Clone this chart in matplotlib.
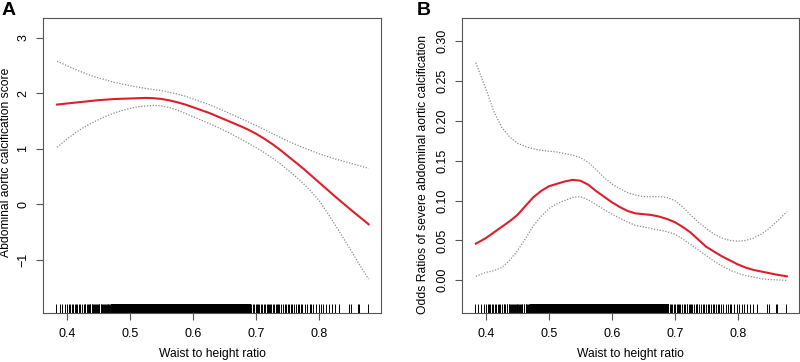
import numpy as np
import matplotlib
matplotlib.use("Agg")
import matplotlib.pyplot as plt

plt.rcParams['font.family'] = ['Liberation Sans', 'DejaVu Sans']

whtr = [0.384, 0.40, 0.4125, 0.425, 0.4375, 0.45, 0.4625, 0.475, 0.4875, 0.50,
        0.5125, 0.525, 0.5375, 0.55, 0.5625, 0.575, 0.5875, 0.60, 0.6125, 0.625,
        0.6375, 0.65, 0.6625, 0.675, 0.6875, 0.70, 0.7125, 0.725, 0.7375, 0.75,
        0.7625, 0.775, 0.7875, 0.80, 0.8125, 0.825, 0.8375, 0.85, 0.8625, 0.878]

# Panel A: abdominal aortic calcification score
aac_fit = [1.80, 1.82, 1.835, 1.85, 1.865, 1.88, 1.89, 1.90, 1.905, 1.91,
           1.915, 1.92, 1.915, 1.90, 1.875, 1.84, 1.80, 1.75, 1.70, 1.65,
           1.59, 1.53, 1.47, 1.41, 1.345, 1.27, 1.185, 1.09, 0.985, 0.87,
           0.755, 0.64, 0.515, 0.39, 0.265, 0.14, 0.02, -0.10, -0.215, -0.36]
aac_upper = [2.58, 2.50, 2.435, 2.38, 2.325, 2.28, 2.24, 2.20, 2.17, 2.14,
             2.115, 2.09, 2.07, 2.05, 2.02, 1.99, 1.95, 1.90, 1.85, 1.80,
             1.74, 1.68, 1.615, 1.55, 1.485, 1.42, 1.35, 1.28, 1.21, 1.14,
             1.08, 1.02, 0.965, 0.91, 0.865, 0.82, 0.78, 0.74, 0.70, 0.65]
aac_lower = [1.03, 1.18, 1.285, 1.38, 1.46, 1.53, 1.595, 1.65, 1.695, 1.73,
             1.76, 1.775, 1.785, 1.775, 1.745, 1.70, 1.64, 1.58, 1.52, 1.46,
             1.395, 1.33, 1.255, 1.18, 1.10, 1.02, 0.935, 0.84, 0.735, 0.62,
             0.50, 0.37, 0.225, 0.06, -0.15, -0.37, -0.60, -0.83, -1.07, -1.35]

# Panel B: odds ratios of severe AAC
or_fit = [0.046, 0.053, 0.060, 0.067, 0.074, 0.082, 0.093, 0.104, 0.112, 0.118,
          0.121, 0.124, 0.126, 0.125, 0.120, 0.112, 0.105, 0.098, 0.092, 0.087,
          0.084, 0.083, 0.082, 0.080, 0.077, 0.073, 0.067, 0.060, 0.051, 0.042,
          0.036, 0.030, 0.025, 0.020, 0.016, 0.013, 0.011, 0.009, 0.007, 0.005]
or_upper = [0.273, 0.240, 0.212, 0.192, 0.180, 0.172, 0.168, 0.165, 0.163, 0.162,
            0.161, 0.159, 0.157, 0.154, 0.148, 0.139, 0.129, 0.121, 0.115, 0.110,
            0.107, 0.105, 0.105, 0.105, 0.104, 0.100, 0.092, 0.082, 0.073, 0.065,
            0.058, 0.053, 0.050, 0.049, 0.050, 0.053, 0.058, 0.065, 0.074, 0.086]
or_lower = [0.005, 0.010, 0.012, 0.016, 0.025, 0.037, 0.052, 0.068, 0.080, 0.090,
            0.096, 0.100, 0.104, 0.105, 0.101, 0.095, 0.089, 0.083, 0.078, 0.073,
            0.069, 0.067, 0.065, 0.063, 0.061, 0.058, 0.052, 0.045, 0.038, 0.031,
            0.024, 0.018, 0.013, 0.009, 0.006, 0.004, 0.002, 0.001, 0.0005, 0.000]

# rug of observed ratios: single ticks plus the solid block in the middle
rug_ticks = [0.383, 0.388, 0.392, 0.397, 0.400, 0.403, 0.405, 0.407, 0.409, 0.412,
             0.414, 0.416, 0.419, 0.421, 0.423, 0.426, 0.428, 0.429, 0.431, 0.433,
             0.434, 0.436, 0.437, 0.439, 0.440, 0.441, 0.443, 0.444, 0.446, 0.447,
             0.449, 0.450, 0.451, 0.453, 0.454, 0.456, 0.457, 0.458, 0.460, 0.461,
             0.463, 0.464, 0.465, 0.467, 0.468, 0.469,
             0.692, 0.694, 0.696, 0.699, 0.701, 0.703, 0.705, 0.707, 0.709, 0.712,
             0.714, 0.717, 0.719, 0.720, 0.722, 0.724, 0.726, 0.728, 0.731, 0.733,
             0.735, 0.736, 0.739, 0.742, 0.745, 0.747, 0.750, 0.752, 0.755, 0.757,
             0.760, 0.763, 0.766, 0.768, 0.771, 0.773, 0.777, 0.781, 0.785, 0.787,
             0.790, 0.794, 0.799, 0.802, 0.806, 0.810, 0.815, 0.820, 0.825, 0.831,
             0.847, 0.850, 0.861, 0.863, 0.877]
rug_block = (0.470, 0.691)

x_ticks = [0.4, 0.5, 0.6, 0.7, 0.8]
x_ticklabels = ['0.4', '0.5', '0.6', '0.7', '0.8']
a_yticks = [-1, 0, 1, 2, 3]
a_yticklabels = ['\u22121', '0', '1', '2', '3']
b_yticks = [0.00, 0.05, 0.10, 0.15, 0.20, 0.25, 0.30]
b_yticklabels = ['0.00', '0.05', '0.10', '0.15', '0.20', '0.25', '0.30']

RED = '#dd1f2c'
GREY = '#8c8c8c'
BOX = '#555555'

fig = plt.figure(figsize=(8, 3.62), dpi=100)
axA = fig.add_axes([0.054, 0.1354, 0.4225, 0.8146])
axB = fig.add_axes([0.5775, 0.1354, 0.421, 0.8146])


def draw_panel(ax, fit, upper, lower, xlim, ylim, yticks, yticklabels, ylabel, ylab_x, ylab_y, letter, letter_x):
    ax.plot(whtr, upper, color=GREY, lw=0.9, linestyle=(0, (1, 1.3)))
    ax.plot(whtr, lower, color=GREY, lw=0.9, linestyle=(0, (1, 1.3)))
    ax.plot(whtr, fit, color=RED, lw=1.5)

    trans = ax.get_xaxis_transform()
    ax.vlines(rug_ticks, 0, 0.031, transform=trans, color='black', lw=0.7)
    ax.axvspan(rug_block[0], rug_block[1], ymin=0, ymax=0.031, color='black', lw=0)

    ax.set_xlim(*xlim)
    ax.set_ylim(*ylim)
    ax.set_xticks(x_ticks)
    ax.set_xticklabels(x_ticklabels)
    ax.set_yticks(yticks)
    ax.set_yticklabels(yticklabels, rotation=90, va='center')
    ax.tick_params(direction='out', length=5, width=0.8, color=BOX, labelsize=9)
    ax.tick_params(axis='x', pad=6)
    ax.tick_params(axis='y', pad=5)
    for s in ax.spines.values():
        s.set_color(BOX)
        s.set_linewidth(0.8)

    ax.text(0.5, -0.138, 'Waist to height ratio', transform=ax.transAxes,
            ha='center', va='center', fontsize=8.7)
    ax.text(ylab_x, ylab_y, ylabel, transform=ax.transAxes, rotation=90,
            ha='center', va='center', fontsize=8.7)
    fig.text(letter_x, 0.972, letter, fontsize=14, fontweight='bold',
             ha='center', va='center')


draw_panel(axA, aac_fit, aac_upper, aac_lower, (0.362, 0.898), (-1.96, 3.36),
           a_yticks, a_yticklabels, 'Abdominal aortic calcification score',
           -0.109, 0.51, 'A', 0.011)
draw_panel(axB, or_fit, or_upper, or_lower, (0.362, 0.897), (-0.041, 0.329),
           b_yticks, b_yticklabels, 'Odds Ratios of severe abdominal aortic calcification',
           -0.116, 0.47, 'B', 0.53)

fig.savefig('out.png', dpi=100)
